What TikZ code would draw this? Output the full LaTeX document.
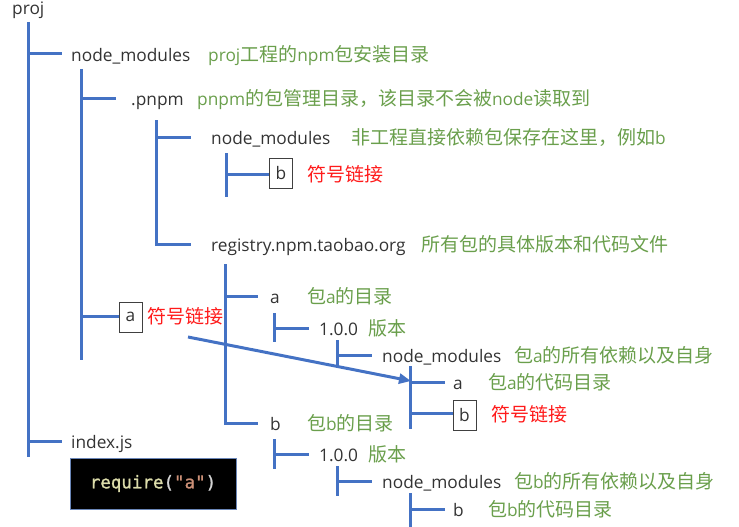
\documentclass[tikz,border=0pt]{standalone}
\usepackage{fontspec}
\setmainfont{Noto Sans CJK SC}
\newfontfamily\latinfont{Open Sans}[Scale=0.91]
\newfontfamily\codefont{DejaVu Sans Mono}[FakeBold=1.2]
\newcommand\lt[1]{{\latinfont #1}}
\usetikzlibrary{arrows.meta}
\definecolor{treeblue}{HTML}{4472C4}
\definecolor{labelgray}{HTML}{333333}
\definecolor{notegreen}{HTML}{6A9F4C}
\definecolor{linkred}{HTML}{FF1A1A}
\definecolor{boxgray}{HTML}{404040}
\definecolor{codefn}{HTML}{DCDCAA}
\definecolor{codestr}{HTML}{CE9178}
\definecolor{codepar}{HTML}{D4D4D4}
\definecolor{codeborder}{HTML}{6A86B8}
\begin{document}
\begin{tikzpicture}[x=1pt,y=-1pt,
  tree/.style={line width=3pt, draw=treeblue},
  lbl/.style={inner sep=0pt, anchor=base west, text=labelgray, font=\latinfont\fontsize{19}{22}\selectfont},
  note/.style={inner sep=0pt, anchor=base west, text=notegreen, font=\fontsize{19}{22}\selectfont},
  linknote/.style={note, text=linkred},
  linkbox/.style={draw=boxgray, line width=0.8pt, minimum width=23pt, minimum height=30pt, inner sep=0pt, text=labelgray, font=\latinfont\fontsize{19}{22}\selectfont},
  codebox/.style={fill=black, draw=codeborder, line width=0.8pt, minimum width=166pt, minimum height=51pt, inner sep=0pt, font=\codefont\fontsize{17.5}{20}\selectfont}
]
\useasboundingbox (0,0) rectangle (739,527);

% ---------- labels ----------
\node[lbl] (proj) at (12,15) {proj};
\node[lbl] (nm1) at (71,61.5) {node\_modules};
\node[note] (c1) at (208,61.5) {\lt{proj}工程的\lt{npm}包安装目录};
\node[lbl] (pnpm) at (131,105.5) {.pnpm};
\node[note] (c2) at (197,105.5) {\lt{pnpm}的包管理目录，该目录不会被\lt{node}读取到};
\node[lbl] (nm2) at (211,144.5) {node\_modules};
\node[note] (c3) at (351,144.5) {非工程直接依赖包保存在这里，例如\lt{b}};
\node[linkbox] (lb1) at (281,173.5) {b};
\node[linknote] (r1) at (307,181) {符号链接};
\node[lbl] (reg) at (211,251) {registry.npm.taobao.org};
\node[note] (c4) at (421,251) {所有包的具体版本和代码文件};
\node[linkbox] (la) at (130.5,317) {a};
\node[linknote] (r2) at (147,323.5) {符号链接};

\node[lbl] (pa) at (270,303.5) {a};
\node[note] (c5) at (307,303.5) {包\lt{a}的目录};
\node[lbl] (va) at (319,335) {1.0.0};
\node[note] (c6) at (368,335) {版本};
\node[lbl] (nma) at (382,362.5) {node\_modules};
\node[note] (c7) at (514,362.5) {包\lt{a}的所有依赖以及自身};
\node[lbl] (aa) at (453,389.5) {a};
\node[note] (c8) at (488,389.5) {包\lt{a}的代码目录};
\node[linkbox] (lb2) at (464.5,415.5) {b};
\node[linknote] (r3) at (491,421) {符号链接};

\node[lbl] (pb) at (270,430.5) {b};
\node[note] (c9) at (307,430.5) {包\lt{b}的目录};
\node[lbl] (vb) at (319,461.5) {1.0.0};
\node[note] (c10) at (368,461.5) {版本};
\node[lbl] (nmb) at (382,488.5) {node\_modules};
\node[note] (c11) at (514,488.5) {包\lt{b}的所有依赖以及自身};
\node[lbl] (bb) at (453,516.5) {b};
\node[note] (c12) at (488,516.5) {包\lt{b}的代码目录};

\node[lbl] (idx) at (71,448.5) {index.js};
\node[codebox] (code) at (153,483.5) {\textcolor{codefn}{require}\textcolor{codepar}{(}\textcolor{codestr}{"a"}\textcolor{codepar}{)}};

% ---------- tree lines ----------
% level 1
\draw[tree] (28,22) -- (28,457);
\draw[tree] (28,54) -- ([xshift=-9pt]nm1.west |- 28,54);
\draw[tree] (28,441) -- ([xshift=-9pt]idx.west |- 28,441);
% level 2
\draw[tree] (81,69) -- (81,360);
\draw[tree] (81,98) -- (116,98);
\draw[tree] (81,316) -- (la.west |- 81,316);
% level 3 (.pnpm)
\draw[tree] (156,120) |- (191,244);
\draw[tree] (156,137) -- (191,137);
% node_modules -> b
\draw[tree] (226,153) -- (226,197);
\draw[tree] (226,174) -- (lb1.west |- 226,174);
% registry
\draw[tree] (225,264) |- (258,423);
\draw[tree] (225,296) -- (258,296);
% a tree
\draw[tree] (274,313) -- (274,342);
\draw[tree] (274,328) -- (309,328);
\draw[tree] (337,340) -- (337,368);
\draw[tree] (337,355) -- (372,355);
\draw[tree] (410,366) -- (410,429);
\draw[tree] (410,382) -- (445,382);
\draw[tree] (410,413) -- (lb2.west |- 410,413);
% b tree
\draw[tree] (274,439) -- (274,469);
\draw[tree] (274,454) -- (309,454);
\draw[tree] (337,466) -- (337,496);
\draw[tree] (337,481) -- (372,481);
\draw[tree] (410,493) -- (410,527);
\draw[tree] (410,509) -- (445,509);

% ---------- symlink arrow ----------
\coordinate (lnkstart) at (188,337);
\coordinate (lnkend) at (411,381);
\draw[tree, -{Triangle[length=12pt,width=10pt]}] (lnkstart) -- (lnkend);
\end{tikzpicture}
\end{document}
